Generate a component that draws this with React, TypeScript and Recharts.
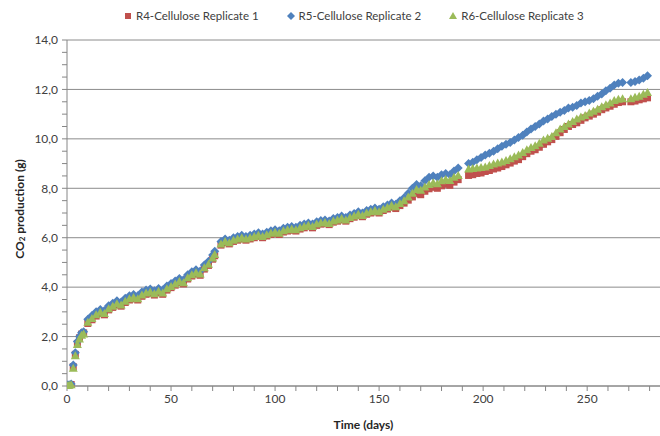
import React from 'react';
import { ScatterChart, Scatter, XAxis, YAxis, CartesianGrid, Label } from 'recharts';

// sampling days (shared by the three reactors)
const days = [
  0, 1, 2, 3, 4, 5, 6, 7, 8,
  10, 12, 14, 16, 18, 20, 22, 24, 26, 28,
  30, 32, 34, 36, 38, 40, 42, 44, 46, 48,
  50, 52, 54, 56, 58, 60, 62, 64, 66, 68,
  70, 71,
  74, 76, 78, 80, 82, 84, 86, 88, 90, 92,
  94, 96, 98, 100, 102, 104, 106, 108, 110, 112,
  114, 116, 118, 120, 122, 124, 126, 128, 130, 132,
  134, 136, 138, 140, 142, 144, 146, 148, 150, 152,
  154, 156, 158, 160, 162, 164, 166, 168, 170, 172,
  174, 176, 178, 180, 182, 184, 186, 188,
  193, 195, 197, 199, 201, 203, 205, 207, 209, 211,
  213, 215, 217, 219, 221, 223, 225, 227, 229, 231,
  233, 235, 237, 239, 241, 243, 245, 247, 249, 251,
  253, 255, 257, 259, 261, 263, 265, 267,
  271, 273, 275, 277, 279,
];

// cumulative CO2 (g)
const r4Values = [
  0.03, 0.04, 0.06, 0.78, 1.28, 1.72, 1.95, 2.1, 2.15,
  2.53, 2.68, 2.83, 2.93, 2.88, 3.08, 3.18, 3.28, 3.23, 3.38,
  3.48, 3.53, 3.48, 3.63, 3.71, 3.75, 3.68, 3.78, 3.71, 3.88,
  3.98, 4.08, 4.18, 4.13, 4.33, 4.45, 4.53, 4.48, 4.73, 4.88,
  5.13, 5.27,
  5.7, 5.8, 5.75, 5.85, 5.9, 5.95, 5.9, 5.95, 6.0, 6.05,
  6.0, 6.07, 6.13, 6.17, 6.13, 6.23, 6.27, 6.3, 6.27, 6.35,
  6.4, 6.45, 6.4, 6.5, 6.55, 6.57, 6.53, 6.63, 6.67, 6.73,
  6.67, 6.77, 6.83, 6.9, 6.85, 6.95, 7.0, 7.05, 7.0, 7.1,
  7.16, 7.24, 7.18, 7.3, 7.4, 7.52, 7.65, 7.78, 7.74, 7.88,
  7.98, 8.04, 8.0, 8.1, 8.16, 8.12, 8.25, 8.35,
  8.52, 8.55, 8.6, 8.62, 8.68, 8.72, 8.78, 8.82, 8.88, 8.95,
  9.02, 9.1, 9.16, 9.28, 9.4, 9.5, 9.56, 9.66, 9.78, 9.88,
  9.97, 10.1, 10.25, 10.38, 10.5, 10.58, 10.65, 10.75, 10.85, 10.92,
  11.0, 11.08, 11.18, 11.25, 11.32, 11.4, 11.47, 11.5,
  11.5, 11.53, 11.58, 11.62, 11.66,
];

const r5Values = [
  0.05, 0.05, 0.08, 0.85, 1.35, 1.8, 2.0, 2.15, 2.2,
  2.7, 2.85, 3.0, 3.1, 3.05, 3.25, 3.35, 3.45, 3.4, 3.55,
  3.65, 3.7, 3.65, 3.8, 3.88, 3.92, 3.85, 3.95, 3.88, 4.05,
  4.15, 4.25, 4.35, 4.3, 4.5, 4.62, 4.7, 4.65, 4.9, 5.05,
  5.3, 5.45,
  5.85, 5.95, 5.9, 6.0, 6.05, 6.1, 6.05, 6.1, 6.15, 6.2,
  6.15, 6.22, 6.28, 6.32, 6.28, 6.38, 6.42, 6.45, 6.42, 6.5,
  6.55, 6.6, 6.55, 6.65, 6.7, 6.72, 6.68, 6.78, 6.82, 6.88,
  6.82, 6.92, 6.98, 7.05, 7.0, 7.1, 7.15, 7.2, 7.15, 7.25,
  7.32, 7.4, 7.35, 7.5, 7.62, 7.8, 8.0, 8.15, 8.1, 8.3,
  8.45, 8.5, 8.45, 8.55, 8.6, 8.55, 8.7, 8.82,
  9.0, 9.05, 9.15, 9.25, 9.35, 9.42, 9.5, 9.6, 9.7, 9.78,
  9.85, 9.95, 10.05, 10.15, 10.28, 10.4, 10.5, 10.6, 10.72, 10.8,
  10.9, 11.0, 11.08, 11.15, 11.25, 11.28, 11.35, 11.45, 11.5, 11.55,
  11.62, 11.72, 11.82, 11.95, 12.05, 12.18, 12.25, 12.28,
  12.28, 12.32, 12.38, 12.45, 12.55,
];

const r6Values = [
  0.02, 0.03, 0.05, 0.72, 1.22, 1.68, 1.9, 2.05, 2.1,
  2.58, 2.73, 2.88, 2.98, 2.93, 3.13, 3.23, 3.33, 3.28, 3.43,
  3.53, 3.58, 3.53, 3.68, 3.76, 3.8, 3.73, 3.83, 3.76, 3.93,
  4.03, 4.13, 4.23, 4.18, 4.38, 4.5, 4.58, 4.53, 4.78, 4.93,
  5.18, 5.32,
  5.75, 5.85, 5.8, 5.9, 5.95, 6.0, 5.95, 6.0, 6.05, 6.1,
  6.05, 6.12, 6.18, 6.22, 6.18, 6.28, 6.32, 6.35, 6.32, 6.4,
  6.45, 6.5, 6.45, 6.55, 6.6, 6.62, 6.58, 6.68, 6.72, 6.78,
  6.72, 6.82, 6.88, 6.95, 6.9, 7.0, 7.05, 7.1, 7.05, 7.15,
  7.22, 7.3, 7.25, 7.38, 7.5, 7.65, 7.8, 7.95, 7.92, 8.05,
  8.15, 8.22, 8.18, 8.3, 8.36, 8.32, 8.45, 8.52,
  8.78, 8.8, 8.82, 8.84, 8.86, 8.92, 8.98, 9.02, 9.06, 9.12,
  9.2, 9.28, 9.35, 9.45, 9.56, 9.65, 9.72, 9.82, 9.95, 10.02,
  10.1, 10.25, 10.4, 10.5, 10.6, 10.7, 10.8, 10.88, 10.95, 11.05,
  11.12, 11.2, 11.3, 11.38, 11.45, 11.55, 11.6, 11.62,
  11.62, 11.68, 11.72, 11.8, 11.88,
];

const seriesNames = ['R4-Cellulose Replicate 1', 'R5-Cellulose Replicate 2', 'R6-Cellulose Replicate 3'];
const COLORS = ['#C0504D', '#4F81BD', '#9BBB59'];

const xTicks = [0, 10, 20, 30, 40, 50, 60, 70, 80, 90, 100, 110, 120, 130, 140, 150, 160, 170, 180, 190, 200, 210, 220, 230, 240, 250, 260, 270, 280];
const yTicks = [0, 0.5, 1, 1.5, 2, 2.5, 3, 3.5, 4, 4.5, 5, 5.5, 6, 6.5, 7, 7.5, 8, 8.5, 9, 9.5, 10, 10.5, 11, 11.5, 12, 12.5, 13, 13.5, 14];
const yGrid = [0, 2, 4, 6, 8, 10, 12, 14];

const toPoints = (vals: number[]) => days.map((d, i) => ({ day: d, co2: vals[i] }));

const FONT = 'Lato, "Open Sans", sans-serif';

const SquareDot = (p: any) => <rect x={p.cx - 3.5} y={p.cy - 3.5} width={7} height={7} fill={COLORS[0]} />;
const DiamondDot = (p: any) => (
  <polygon points={`${p.cx},${p.cy - 4.5} ${p.cx + 4.5},${p.cy} ${p.cx},${p.cy + 4.5} ${p.cx - 4.5},${p.cy}`} fill={COLORS[1]} />
);
const TriangleDot = (p: any) => (
  <polygon points={`${p.cx},${p.cy - 4.5} ${p.cx + 4.5},${p.cy + 3.5} ${p.cx - 4.5},${p.cy + 3.5}`} fill={COLORS[2]} />
);

const YTitle = (props: any) => {
  const vb = props.viewBox;
  const x = 19;
  const y = vb.y + vb.height / 2 - 4;
  return (
    <text x={x} y={y} transform={`rotate(-90, ${x}, ${y})`} textAnchor="middle" dominantBaseline="central"
      fontWeight="bold" fontSize={12} fill="#262626" fontFamily={FONT}>
      CO<tspan dy={3} fontSize={8}>2</tspan><tspan dy={-3}> production (g)</tspan>
    </text>
  );
};

const legendIcons = [
  <svg width={8} height={8}><rect x={1} y={1} width={6} height={6} fill={COLORS[0]} /></svg>,
  <svg width={8} height={8}><polygon points="4,0 8,4 4,8 0,4" fill={COLORS[1]} /></svg>,
  <svg width={8} height={8}><polygon points="4,0 8,7 0,7" fill={COLORS[2]} /></svg>,
];

export default function App() {
  const fmtY = (v: number) => (v % 2 === 0 ? v.toFixed(1).replace('.', ',') : '');
  const fmtX = (v: number) => (v % 50 === 0 ? String(v) : '');

  return (
    <div style={{ position: 'relative', width: 660, height: 436, fontFamily: FONT, background: '#fff' }}>
      <style>{`body{margin:0}`}</style>
      <div style={{ position: 'absolute', top: 9, left: 124, display: 'flex', gap: 28, fontSize: 11.5, color: '#404040', whiteSpace: 'nowrap' }}>
        {seriesNames.map((n, i) => (
          <div key={n} style={{ display: 'flex', alignItems: 'center', gap: 4 }}>
            {legendIcons[i]}
            <span>{n}</span>
          </div>
        ))}
      </div>
      <ScatterChart width={660} height={436} margin={{ top: 40, right: 0, bottom: 0, left: 7 }}>
        <CartesianGrid vertical={false} horizontalValues={yGrid} stroke="#8c8c8c" strokeWidth={1} />
        <XAxis type="number" dataKey="day" domain={[0, 285]} ticks={xTicks} tickFormatter={fmtX}
          interval={0} height={50} stroke="#868686" tickSize={5} tickMargin={3}
          tick={{ fill: '#404040', fontSize: 12 }} allowDataOverflow>
          <Label value="Time (days)" position="insideBottom" offset={7} fontWeight="bold" fontSize={12} fill="#262626" />
        </XAxis>
        <YAxis type="number" dataKey="co2" domain={[0, 14]} ticks={yTicks} tickFormatter={fmtY}
          interval={0} width={60} stroke="#868686" tickSize={5} tickMargin={4}
          tick={{ fill: '#404040', fontSize: 12 }}>
          <Label content={YTitle} />
        </YAxis>
        <Scatter name={seriesNames[0]} data={toPoints(r4Values)} shape={SquareDot} isAnimationActive={false} />
        <Scatter name={seriesNames[1]} data={toPoints(r5Values)} shape={DiamondDot} isAnimationActive={false} />
        <Scatter name={seriesNames[2]} data={toPoints(r6Values)} shape={TriangleDot} isAnimationActive={false} />
      </ScatterChart>
    </div>
  );
}
